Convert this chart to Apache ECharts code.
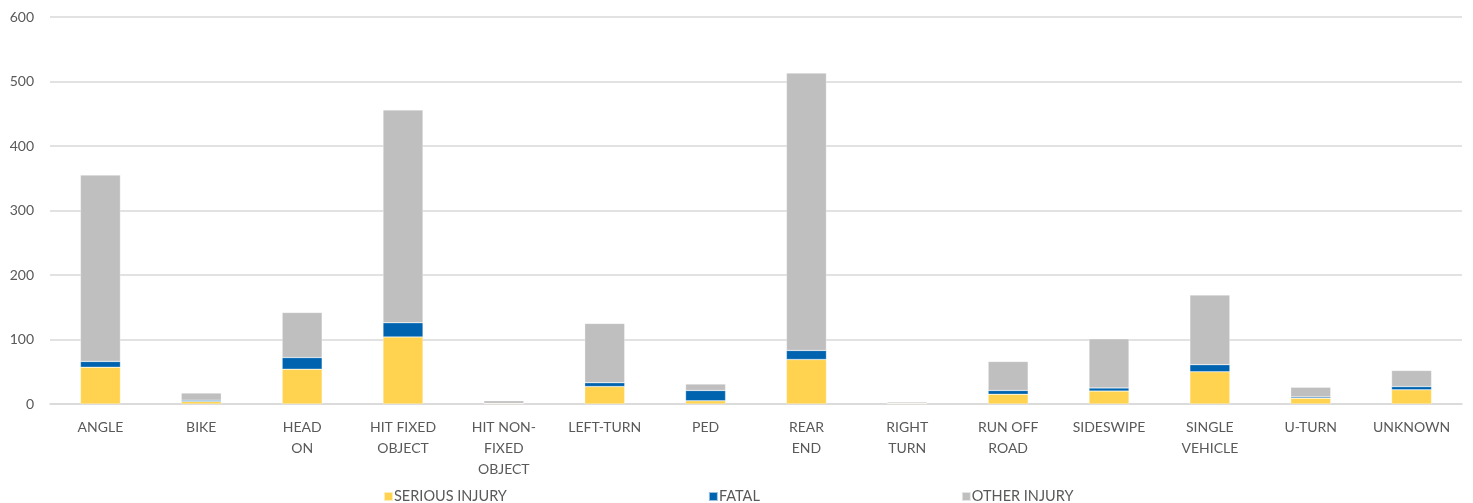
<!DOCTYPE html>
<html><head><meta charset="utf-8">
<script src="https://cdn.jsdelivr.net/npm/echarts@6/dist/echarts.min.js"></script>
<style>html,body{margin:0;padding:0;background:#fff}#c{width:1473px;height:503px}</style>
</head><body><div id="c"></div>
<script>
var categories = ['ANGLE','BIKE','HEAD\nON','HIT FIXED\nOBJECT','HIT NON-\nFIXED\nOBJECT','LEFT-TURN','PED','REAR\nEND','RIGHT\nTURN','RUN OFF\nROAD','SIDESWIPE','SINGLE\nVEHICLE','U-TURN','UNKNOWN'];
var seriousInjury = [57, 4, 54, 104, 1, 27, 5, 69, 1, 15, 20, 50, 9, 22];
var fatal = [9, 2, 18, 22, 0, 6, 16, 14, 0, 6, 5, 11, 2, 5];
var otherInjury = [289, 11, 70, 330, 4, 92, 10, 430, 2, 45, 76, 108, 15, 25];
var yTicks = [0, 100, 200, 300, 400, 500, 600];

var font = 'Lato, "Open Sans", sans-serif';
var chart = echarts.init(document.getElementById('c'));
function s(name, data, color){
  return {name:name, type:'bar', stack:'t', data:data, barWidth:40,
    itemStyle:{color:color, borderColor:'rgba(255,255,255,0.6)', borderWidth:0.5}};
}
chart.setOption({
  animation:false,
  grid:{left:50, right:11, top:17, bottom:99, containLabel:false},
  legend:{top:484, left:378, itemGap:201, itemWidth:9, itemHeight:9, icon:'rect',
    textStyle:{fontFamily:font, fontSize:14.5, color:'#595959', padding:[0,0,0,-4]},
    data:['SERIOUS INJURY','FATAL','OTHER INJURY']},
  xAxis:{type:'category', data:categories,
    axisLine:{lineStyle:{color:'#D9D9D9', width:1.5}}, axisTick:{show:false},
    axisLabel:{interval:0, fontFamily:font, fontSize:14, color:'#595959', lineHeight:21, margin:13}},
  yAxis:{type:'value', min:yTicks[0], max:yTicks[yTicks.length-1], interval:100,
    axisLine:{show:false}, axisTick:{show:false},
    splitLine:{lineStyle:{color:'#D9D9D9', width:1.5}},
    axisLabel:{fontFamily:font, fontSize:14, color:'#595959', margin:16}},
  series:[
    s('SERIOUS INJURY', seriousInjury, '#FFD34F'),
    s('FATAL', fatal, '#0063AF'),
    s('OTHER INJURY', otherInjury, '#BFBFBF')
  ]
});
</script></body></html>
